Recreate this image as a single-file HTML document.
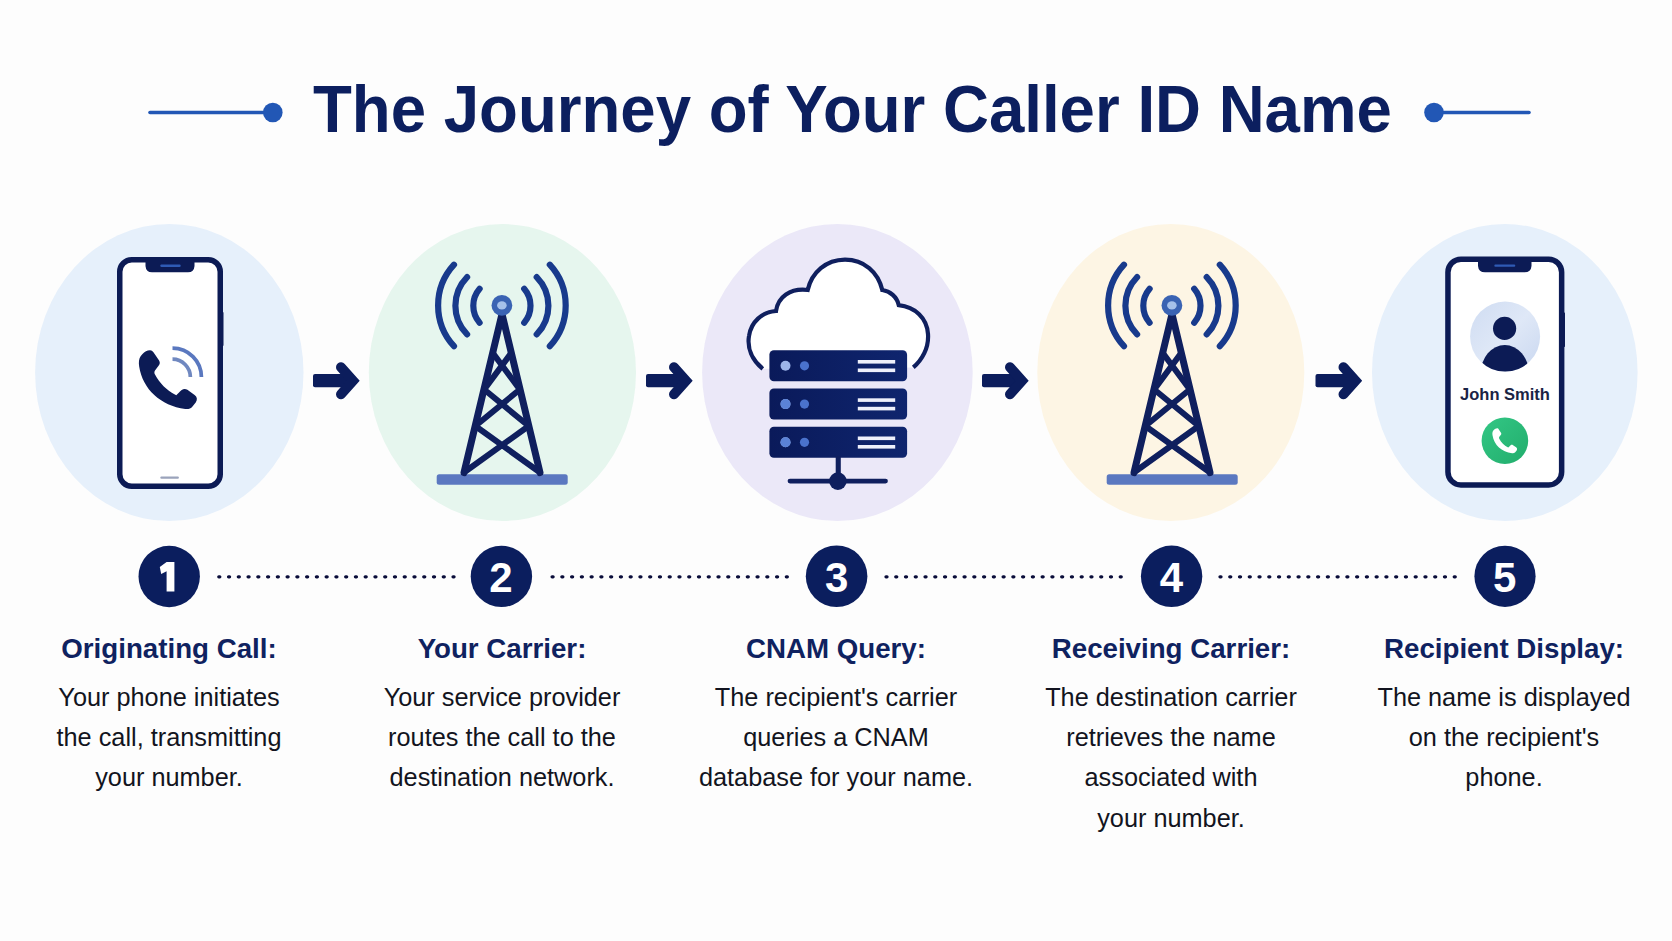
<!DOCTYPE html>
<html><head><meta charset="utf-8">
<style>
html,body{margin:0;padding:0}
body{width:1672px;height:941px;overflow:hidden;background:#fdfdfd;position:relative;font-family:"Liberation Sans",sans-serif}
svg.bg{position:absolute;left:0;top:0}
.title{position:absolute;left:16px;top:75px;width:1672px;text-align:center;font-weight:bold;font-size:67px;line-height:67px;color:#0c1f5f;white-space:nowrap}
.title span{display:inline-block;transform:scaleX(0.949);transform-origin:center}
.num{position:absolute;width:62px;height:42px;text-align:center;font-weight:bold;font-size:42px;line-height:42px;color:#fff}
.col{position:absolute;top:628.5px;width:330px;text-align:center}
.col h3{margin:0;font-size:27.7px;line-height:40px;font-weight:bold;color:#0f2260;white-space:nowrap}
.col p{margin:8.5px 0 0;font-size:25.3px;line-height:40.2px;color:#121420}
.js{position:absolute;left:1455px;top:385.3px;width:100px;text-align:center;font-weight:bold;font-size:16.5px;line-height:18px;color:#1a2344;white-space:nowrap}
</style></head>
<body>
<svg class="bg" width="1672" height="941" viewBox="0 0 1672 941">
  <!-- title decorations -->
  <line x1="150" y1="112.5" x2="272" y2="112.5" stroke="#2257b5" stroke-width="3.6" stroke-linecap="round"/>
  <circle cx="272.8" cy="112.5" r="9.8" fill="#2257b5"/>
  <line x1="1434" y1="112.5" x2="1529" y2="112.5" stroke="#2257b5" stroke-width="3.6" stroke-linecap="round"/>
  <circle cx="1434" cy="112.5" r="9.8" fill="#2257b5"/>

  <!-- ellipses -->
  <ellipse cx="169.3" cy="372.5" rx="134.2" ry="148.5" fill="#e6f0fb"/>
  <ellipse cx="502.4" cy="372.5" rx="133.6" ry="148.5" fill="#e6f6ee"/>
  <ellipse cx="837.4" cy="372.5" rx="135.3" ry="148.5" fill="#ebe8f8"/>
  <ellipse cx="1170.8" cy="372.5" rx="133.5" ry="148.5" fill="#fdf5e4"/>
  <ellipse cx="1504.8" cy="372.5" rx="132.8" ry="148.5" fill="#e6f0fb"/>

  <!-- arrows -->
  <g id="arrow" fill="#0c1d5c" stroke="#0c1d5c">
    <rect x="313" y="374.1" width="36" height="13.2" rx="2" stroke="none"/>
    <path d="M341 367.2 L353 380.7 L341 394.2" fill="none" stroke-width="10" stroke-linecap="round" stroke-linejoin="miter"/>
  </g>
  <use href="#arrow" x="333"/>
  <use href="#arrow" x="669"/>
  <use href="#arrow" x="1002.5"/>

  <!-- ===== icon 1: phone with call ===== -->
  <g>
    <rect x="119.75" y="259.75" width="100.5" height="226.5" rx="12" fill="#ffffff" stroke="#0c1b55" stroke-width="5.5"/>
    <rect x="222" y="312" width="1.5" height="34" rx="0.7" fill="#0c1b55"/>
    <path d="M145.5 259 L145.5 266 Q146 272.3 152 272.3 L188 272.3 Q194 272.3 194.5 266 L194.5 259 Z" fill="#0c1b55"/>
    <rect x="160.3" y="264.6" width="20.4" height="2.4" rx="1.2" fill="#2f5bb5"/>
    <rect x="160.3" y="476.5" width="18.6" height="2.3" rx="1.1" fill="#9aa3bb"/>
    <g transform="translate(130 335) scale(0.08502)">
      <path d="M235 178 C258 178 268 190 278 205 L342 300 C356 322 352 345 336 362 L296 415 C284 432 284 448 294 466 C350 570 430 650 528 700 L545 708 C562 692 585 668 608 648 C630 630 655 632 675 645 L760 705 C790 725 795 760 775 790 L735 840 C715 865 685 875 650 870 C360 830 150 640 108 370 C100 320 105 280 125 250 C150 215 180 190 210 182 Z" fill="#0c1b55"/>
      <path d="M500 155 A340 340 0 0 1 840 495" fill="none" stroke="#5a78bf" stroke-width="44"/>
      <path d="M500 285 A210 210 0 0 1 710 495" fill="none" stroke="#7088c0" stroke-width="44"/>
    </g>
  </g>

  <!-- ===== tower icon ===== -->
  <g id="tower">
    <rect x="436.7" y="474.3" width="131" height="10.5" rx="2.5" fill="#5b78c0"/>
    <g fill="none" stroke="#0f1f5e" stroke-width="7" stroke-linecap="round" stroke-linejoin="round">
      <path d="M464 472.6 L502 314 L540 472.6"/>
    </g>
    <g fill="none" stroke="#0f1f5e" stroke-width="6" stroke-linecap="round">
      <path d="M493 353.3 L519.8 389.5 M511 353.3 L484.2 389.5 M484.2 389.5 L528.7 426 M519.8 389.5 L475.3 426 M475.3 426 L538 471 M528.7 426 L466 471"/>
    </g>
    <g fill="none" stroke="#183a8c" stroke-width="6.2" stroke-linecap="round">
      <path d="M454 264.7 A60.2 60.2 0 0 0 454 346.2"/>
      <path d="M467.1 277.1 A40.9 40.9 0 0 0 467.1 334.4"/>
      <path d="M479.6 288.8 A25.95 25.95 0 0 0 479.6 322.7"/>
      <path d="M549.8 264.7 A60.2 60.2 0 0 1 549.8 346.2"/>
      <path d="M536.7 277.1 A40.9 40.9 0 0 1 536.7 334.4"/>
      <path d="M524.2 288.8 A25.95 25.95 0 0 1 524.2 322.7"/>
    </g>
    <circle cx="501.9" cy="305.4" r="10.4" fill="#3a63b3"/>
    <ellipse cx="501.9" cy="305.4" rx="4.8" ry="4.1" fill="#a6c1ea"/>
  </g>
  <use href="#tower" x="670"/>

  <!-- ===== server / cloud icon ===== -->
  <defs>
    <linearGradient id="srv" x1="0" y1="0" x2="1" y2="0">
      <stop offset="0" stop-color="#0a1a5a"/>
      <stop offset="1" stop-color="#0f256e"/>
    </linearGradient>
  </defs>
  <path d="M762.8 368.8 C752 360 747 348 749 336 C751 322 762 312 776 311 C778 297 790 288 807.7 290 C812 272 826 260 845 259.7 C864 259.7 878 272 882.3 290 C890 291 897 297 898.8 305.2 C915 307 927 318 928 334 C929 348 922 360 913.3 367.4" fill="#ffffff" stroke="#0f1f5e" stroke-width="4.2"/>
  <g id="srvunit">
    <rect x="769.4" y="350.2" width="137.7" height="31" rx="4.5" fill="url(#srv)"/>
    <circle cx="785.5" cy="365.8" r="5" fill="#9db5ea"/>
    <circle cx="804.5" cy="365.8" r="4.6" fill="#4a72cc"/>
    <rect x="857.8" y="360" width="37.4" height="3.6" fill="#eef0fb"/>
    <rect x="857.8" y="368.5" width="37.4" height="3.6" fill="#eef0fb"/>
  </g>
  <use href="#srvunit" y="38.3"/>
  <use href="#srvunit" y="76.5"/>
  <circle cx="785.5" cy="404.1" r="5" fill="#5b82d6"/>
  <circle cx="785.5" cy="442.3" r="5" fill="#5b82d6"/>
  <rect x="835.7" y="456" width="5.1" height="22" fill="#0f1f5e"/>
  <line x1="790" y1="481.1" x2="885.5" y2="481.1" stroke="#0f1f5e" stroke-width="4.8" stroke-linecap="round"/>
  <circle cx="837.9" cy="481.1" r="8.8" fill="#0f1f5e"/>

  <!-- ===== icon 5: phone with contact ===== -->
  <defs>
    <clipPath id="avc"><circle cx="1505.1" cy="336.6" r="35"/></clipPath>
    <linearGradient id="avg" x1="0" y1="0" x2="1" y2="1">
      <stop offset="0" stop-color="#cfdcf2"/>
      <stop offset="0.5" stop-color="#dfe8f7"/>
      <stop offset="1" stop-color="#c9d7f0"/>
    </linearGradient>
    <linearGradient id="grn" x1="0" y1="0" x2="1" y2="1">
      <stop offset="0" stop-color="#33c785"/>
      <stop offset="1" stop-color="#22ad6c"/>
    </linearGradient>
  </defs>
  <g>
    <rect x="1447.95" y="259.15" width="113.7" height="225.8" rx="13" fill="#ffffff" stroke="#0c1b55" stroke-width="5.5"/>
    <rect x="1563.5" y="312.5" width="1.5" height="34.4" rx="0.7" fill="#0c1b55"/>
    <path d="M1478 258.5 L1478 266 Q1478.5 272.3 1485 272.3 L1524.5 272.3 Q1531 272.3 1531.5 266 L1531.5 258.5 Z" fill="#0c1b55"/>
    <rect x="1494.3" y="264.6" width="21" height="2.2" rx="1.1" fill="#2f5bb5"/>
    <circle cx="1505.1" cy="336.6" r="35" fill="url(#avg)"/>
    <g clip-path="url(#avc)" fill="#0c1b55">
      <circle cx="1504.6" cy="328.4" r="11.6"/>
      <ellipse cx="1504.8" cy="373" rx="24" ry="28"/>
    </g>
    <circle cx="1504.9" cy="440.7" r="23.3" fill="url(#grn)"/>
    <g transform="translate(1488.6 421.8) scale(0.0362)"><path d="M235 178 C258 178 268 190 278 205 L342 300 C356 322 352 345 336 362 L296 415 C284 432 284 448 294 466 C350 570 430 650 528 700 L545 708 C562 692 585 668 608 648 C630 630 655 632 675 645 L760 705 C790 725 795 760 775 790 L735 840 C715 865 685 875 650 870 C360 830 150 640 108 370 C100 320 105 280 125 250 C150 215 180 190 210 182 Z" fill="#ffffff"/></g>
  </g>

  <!-- number circles -->
  <circle cx="169.2" cy="576.5" r="30.7" fill="#0b1e5e"/>
  <circle cx="501.4" cy="576.4" r="30.7" fill="#0b1e5e"/>
  <circle cx="836.6" cy="576.3" r="30.8" fill="#0b1e5e"/>
  <circle cx="1171.6" cy="576.3" r="30.7" fill="#0b1e5e"/>
  <circle cx="1505" cy="576.3" r="30.6" fill="#0b1e5e"/>
  <path d="M166.6 562 L174.4 562 L174.4 591.6 L166.6 591.6 L166.6 571.2 L161.2 574 L159.8 567 Z" fill="#ffffff"/>

  <!-- dotted connectors -->
  <g stroke="#0a0d3a" stroke-width="3.3" stroke-linecap="round" stroke-dasharray="1 8.76">
    <line x1="218.8" y1="576.8" x2="454.2" y2="576.8"/>
    <line x1="552.1" y1="576.8" x2="787.5" y2="576.8"/>
    <line x1="886" y1="576.8" x2="1121.4" y2="576.8"/>
    <line x1="1220" y1="576.8" x2="1455.4" y2="576.8"/>
  </g>
</svg>

<div class="title"><span>The Journey of Your Caller ID Name</span></div>

<div class="js">John Smith</div>

<div class="num" style="left:470px;top:557px">2</div>
<div class="num" style="left:805.6px;top:557px">3</div>
<div class="num" style="left:1140.5px;top:557px">4</div>
<div class="num" style="left:1473.8px;top:557px">5</div>

<div class="col" style="left:4px"><h3>Originating Call:</h3><p>Your phone initiates<br>the call, transmitting<br>your number.</p></div>
<div class="col" style="left:337px"><h3>Your Carrier:</h3><p>Your service provider<br>routes the call to the<br>destination network.</p></div>
<div class="col" style="left:671px"><h3>CNAM Query:</h3><p>The recipient's carrier<br>queries a CNAM<br>database for your name.</p></div>
<div class="col" style="left:1006px"><h3>Receiving Carrier:</h3><p>The destination carrier<br>retrieves the name<br>associated with<br>your number.</p></div>
<div class="col" style="left:1339px"><h3>Recipient Display:</h3><p>The name is displayed<br>on the recipient's<br>phone.</p></div>

</body></html>
